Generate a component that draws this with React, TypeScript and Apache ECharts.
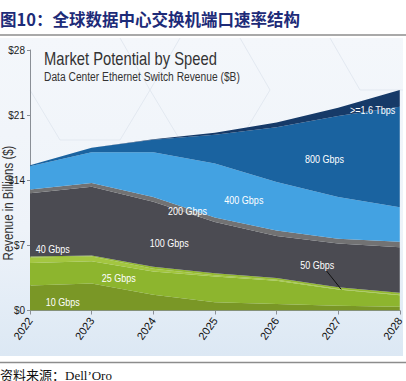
import React, { useEffect, useRef } from 'react';
import * as echarts from 'echarts';

const years = ['2022', '2023', '2024', '2025', '2026', '2027', '2028'];
const yTicks = [0, 7, 14, 21, 28];
const g10 = [2.7, 2.9, 1.7, 0.9, 0.7, 0.5, 0.4];
const g25 = [2.4, 2.4, 2.5, 2.75, 2.5, 1.75, 1.25];
const g40 = [0.6, 0.5, 0.3, 0.15, 0.1, 0.05, 0.05];
const g50 = [0.1, 0.1, 0.2, 0.2, 0.2, 0.2, 0.2];
const g100 = [6.8, 7.4, 7.0, 5.5, 4.5, 4.7, 4.9];
const g200 = [0.4, 0.4, 0.5, 0.5, 0.6, 0.5, 0.6];
const g400 = [2.5, 3.3, 4.8, 5.8, 5.2, 4.5, 3.7];
const g800 = [0.1, 0.5, 1.35, 3.1, 5.9, 8.7, 10.8];
const t16 = [0, 0, 0.05, 0.2, 0.5, 0.9, 1.8];

const seriesNames = ['10 Gbps', '25 Gbps', '40 Gbps', '50 Gbps', '100 Gbps', '200 Gbps', '400 Gbps', '800 Gbps', '>=1.6 Tbps'];
const seriesColors = ['#7a9726', '#8db52e', '#a3c640', '#94b932', '#4b4b52', '#727273', '#43a2e2', '#1a63a0', '#163a68'];
const seriesValues = [g10, g25, g40, g50, g100, g200, g400, g800, t16];

// in-chart labels, placed in data coordinates [year index (fractional), value]
const labelTexts = ['40 Gbps', '10 Gbps', '25 Gbps', '100 Gbps', '200 Gbps', '400 Gbps', '800 Gbps', '>=1.6 Tbps', '50 Gbps'];
const labelX = [0.37, 0.53, 1.44, 2.26, 2.555, 3.47, 4.78, 5.56, 4.66];
const labelY = [6.56, 0.88, 3.45, 7.2, 10.66, 11.84, 16.3, 21.49, 4.88];
const leaderFrom = [4.81, 4.27];
const leaderTo = [5.05, 2.27];

const FONT = "'Liberation Sans', Arial, sans-serif";
const NARROW_SCALE = 0.82;

export default function App() {
  const ref = useRef<HTMLDivElement>(null);
  useEffect(() => {
    const chart = echarts.init(ref.current!, null, { renderer: 'svg' });
    chart.setOption({
      animation: false,
      grid: { left: 30, right: 5, top: 50, bottom: 70.5, containLabel: false },
      xAxis: {
        type: 'category',
        data: years,
        boundaryGap: false,
        axisLine: { show: true, lineStyle: { color: '#8a8f96', width: 1 } },
        axisTick: { show: true, length: 4, alignWithLabel: true, lineStyle: { color: '#8a8f96' } },
        splitLine: { show: false },
        axisLabel: {
          rotate: 55,
          margin: 8,
          color: '#111',
          fontSize: 11,
          fontFamily: FONT,
          interval: 0,
        },
      },
      yAxis: {
        type: 'value',
        min: 0,
        max: 28,
        interval: 7,
        axisLine: { show: true, lineStyle: { color: '#8a8f96', width: 1 } },
        axisTick: { show: true, length: 3, lineStyle: { color: '#8a8f96' } },
        splitLine: { show: false },
        axisLabel: {
          margin: 5,
          color: '#222',
          fontSize: 10,
          fontFamily: FONT,
          formatter: (v: number) => '$' + v,
        },
      },
      series: seriesNames.map((name, i) => ({
        name,
        type: 'line',
        stack: 'total',
        symbol: 'none',
        smooth: false,
        lineStyle: { width: 0 },
        areaStyle: { color: seriesColors[i], opacity: 1 },
        data: seriesValues[i],
        z: 2,
      })),
    });

    const p0 = chart.convertToPixel({ gridIndex: 0 }, [0, 0]) as number[];
    const p6 = chart.convertToPixel({ gridIndex: 0 }, [6, 28]) as number[];
    const px = (x: number, y: number) => [
      p0[0] + (p6[0] - p0[0]) * x / 6,
      p0[1] + (p6[1] - p0[1]) * y / 28,
    ];
    const lf = px(leaderFrom[0], leaderFrom[1]);
    const lt = px(leaderTo[0], leaderTo[1]);

    const graphics: any[] = [
      {
        type: 'rect', z: -10, silent: true,
        shape: { x: 0, y: 38, width: 403, height: 318 },
        style: {
          fill: new echarts.graphic.LinearGradient(0, 0, 0, 1, [
            { offset: 0, color: '#f4f7fb' },
            { offset: 0.6, color: '#eef3f9' },
            { offset: 1, color: '#dce8f4' },
          ]),
        },
      },
      {
        type: 'polyline', z: -9, silent: true,
        shape: { points: [[120, 38], [150, 90], [120, 140], [60, 140], [30, 90]] },
        style: { stroke: '#e3e9f1', fill: 'none', lineWidth: 1 },
      },
      {
        type: 'polyline', z: -9, silent: true,
        shape: { points: [[240, 38], [270, 90], [240, 140], [180, 140], [150, 90], [180, 38]] },
        style: { stroke: '#e3e9f1', fill: 'none', lineWidth: 1 },
      },
      {
        type: 'polyline', z: -9, silent: true,
        shape: { points: [[330, 38], [360, 90], [403, 90]] },
        style: { stroke: '#e3e9f1', fill: 'none', lineWidth: 1 },
      },
      {
        type: 'text', z: 100,
        x: 0, y: 19,
        style: {
          text: '图10：全球数据中心交换机端口速率结构',
          fill: '#1d2b78',
          fontSize: 16.5,
          fontWeight: 'bold',
          fontFamily: "'Noto Sans CJK SC', sans-serif",
          verticalAlign: 'middle',
          align: 'left',
        },
      },
      {
        type: 'line', z: 100, silent: true,
        shape: { x1: 0, y1: 35, x2: 406, y2: 35 },
        style: { stroke: '#8c8c8c', lineWidth: 1.5 },
      },
      {
        type: 'line', z: 100, silent: true,
        shape: { x1: 0, y1: 362.5, x2: 406, y2: 362.5 },
        style: { stroke: '#8c8c8c', lineWidth: 1.5 },
      },
      {
        type: 'text', z: 100,
        x: 0, y: 375,
        style: {
          text: '资料来源：Dell’Oro',
          fill: '#111',
          fontSize: 13,
          fontFamily: "'Liberation Serif', 'Noto Sans CJK SC', serif",
          verticalAlign: 'middle',
          align: 'left',
        },
      },
      {
        type: 'text', z: 100,
        x: 44, y: 58, scaleX: NARROW_SCALE,
        style: {
          text: 'Market Potential by Speed',
          fill: '#333',
          fontSize: 18,
          fontFamily: FONT,
          verticalAlign: 'middle',
          align: 'left',
        },
      },
      {
        type: 'text', z: 100,
        x: 44, y: 77, scaleX: NARROW_SCALE,
        style: {
          text: 'Data Center Ethernet Switch Revenue ($B)',
          fill: '#333',
          fontSize: 12.5,
          fontFamily: FONT,
          verticalAlign: 'middle',
          align: 'left',
        },
      },
      {
        type: 'text', z: 100,
        x: 8, y: 203, rotation: Math.PI / 2, scaleX: NARROW_SCALE,
        style: {
          text: 'Revenue in Billions ($)',
          fill: '#333',
          fontSize: 14,
          fontFamily: FONT,
          verticalAlign: 'middle',
          align: 'center',
        },
      },
      {
        type: 'line', z: 100, silent: true,
        shape: { x1: lf[0], y1: lf[1], x2: lt[0], y2: lt[1] },
        style: { stroke: '#111', lineWidth: 1 },
      },
    ];
    labelTexts.forEach((t, i) => {
      const p = px(labelX[i], labelY[i]);
      graphics.push({
        type: 'text', z: 100,
        x: p[0], y: p[1], scaleX: NARROW_SCALE,
        style: {
          text: t,
          fill: '#ffffff',
          fontSize: 11,
          fontFamily: FONT,
          verticalAlign: 'middle',
          align: 'center',
        },
      });
    });
    chart.setOption({ graphic: graphics });
    return () => chart.dispose();
  }, []);
  return <div ref={ref} style={{ position: 'absolute', left: 0, top: 0, width: 406, height: 381 }} />;
}
